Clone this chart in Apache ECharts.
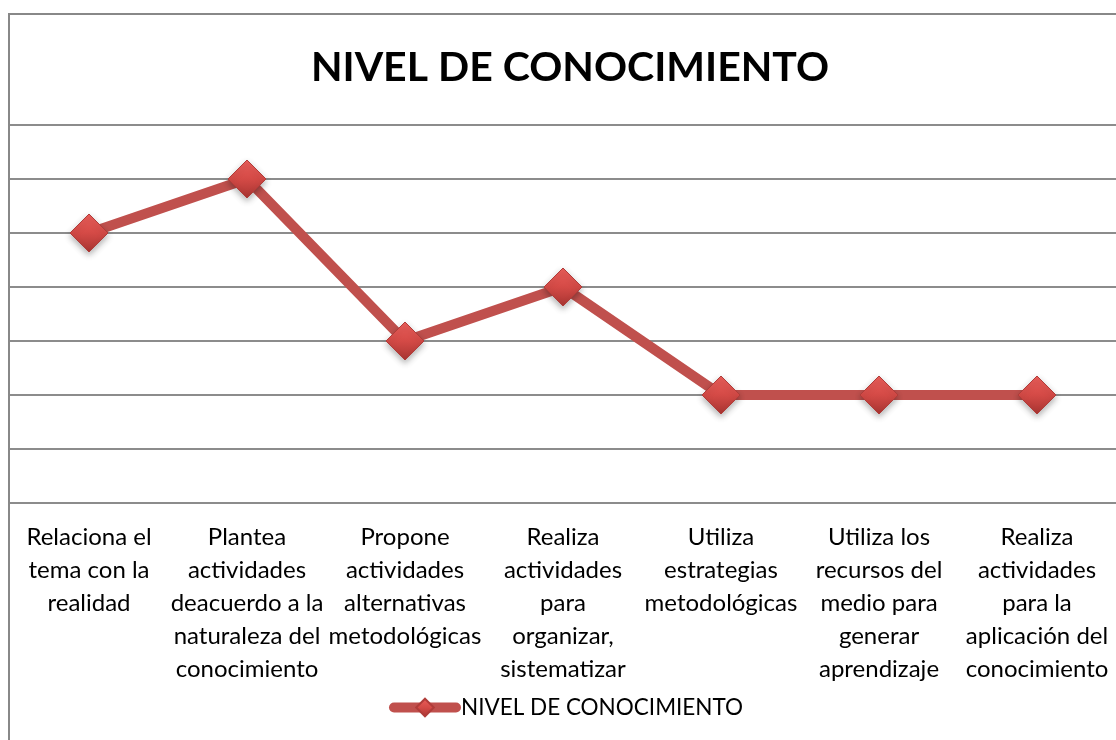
<!DOCTYPE html>
<html><head><meta charset="utf-8">
<script src="https://cdn.jsdelivr.net/npm/echarts@6/dist/echarts.min.js"></script>
<style>html,body{margin:0;padding:0;overflow:hidden;background:#fff}#c{width:1140px;height:740px}</style>
</head><body><div id="c"></div>
<script>
const title = 'NIVEL DE CONOCIMIENTO';
const seriesName = 'NIVEL DE CONOCIMIENTO';
const categories = [
  'Relaciona el\ntema con la\nrealidad',
  'Plantea\nactividades\ndeacuerdo a la\nnaturaleza del\nconocimiento',
  'Propone\nactividades\nalternativas\nmetodológicas',
  'Realiza\nactividades\npara\norganizar,\nsistematizar',
  'Utiliza\nestrategias\nmetodológicas',
  'Utiliza los\nrecursos del\nmedio para\ngenerar\naprendizaje',
  'Realiza\nactividades\npara la\naplicación del\nconocimiento'
];
const values = [5, 6, 3, 4, 2, 2, 2];
const yMin = 0, yMax = 7, yStep = 1;

const font = 'Lato';
const chart = echarts.init(document.getElementById('c'));
chart.setOption({
  animation: false,
  backgroundColor: '#fff',
  title: {
    text: title, left: 'center', top: 42,
    textStyle: {fontFamily: font, fontWeight: 'bold', fontSize: 41, color: '#000'}
  },
  graphic: [{
    type: 'rect', silent: true, z: -1,
    shape: {x: 9, y: 14, width: 1122, height: 760},
    style: {fill: null, stroke: '#888', lineWidth: 2}
  }],
  legend: {
    bottom: 16, left: 384,
    itemWidth: 62, itemHeight: 22, itemGap: 2,
    lineStyle: {width: 10, cap: 'round', color: '#c0504d'},
    textStyle: {fontFamily: font, fontSize: 22.5, color: '#000'},
    data: [seriesName]
  },
  grid: {left: 10, right: 24, top: 125, bottom: 237, containLabel: false},
  xAxis: {
    type: 'category', data: categories, boundaryGap: true,
    axisLine: {show: false}, axisTick: {show: false},
    axisLabel: {interval: 0, margin: 18, fontFamily: font, fontSize: 24, lineHeight: 33, color: '#000', align: 'center', verticalAlign: 'top'}
  },
  yAxis: {
    type: 'value', min: yMin, max: yMax, interval: yStep,
    axisLabel: {show: false}, axisLine: {show: false}, axisTick: {show: false},
    splitLine: {show: true, lineStyle: {color: '#8c8c8c', width: 2}}
  },
  series: [{
    name: seriesName, type: 'line', data: values,
    symbol: 'diamond', symbolSize: 38,
    lineStyle: {color: '#c0504d', width: 10, cap: 'round'},
    itemStyle: {
      color: new echarts.graphic.LinearGradient(0, 0, 0, 1, [
        {offset: 0, color: '#ec5f5b'},
        {offset: 0.5, color: '#d44a46'},
        {offset: 1, color: '#a83532'}
      ]),
      borderColor: '#b03c39', borderWidth: 1,
      shadowColor: 'rgba(0,0,0,0.3)', shadowBlur: 6, shadowOffsetY: 3
    }
  }]
});
</script></body></html>
